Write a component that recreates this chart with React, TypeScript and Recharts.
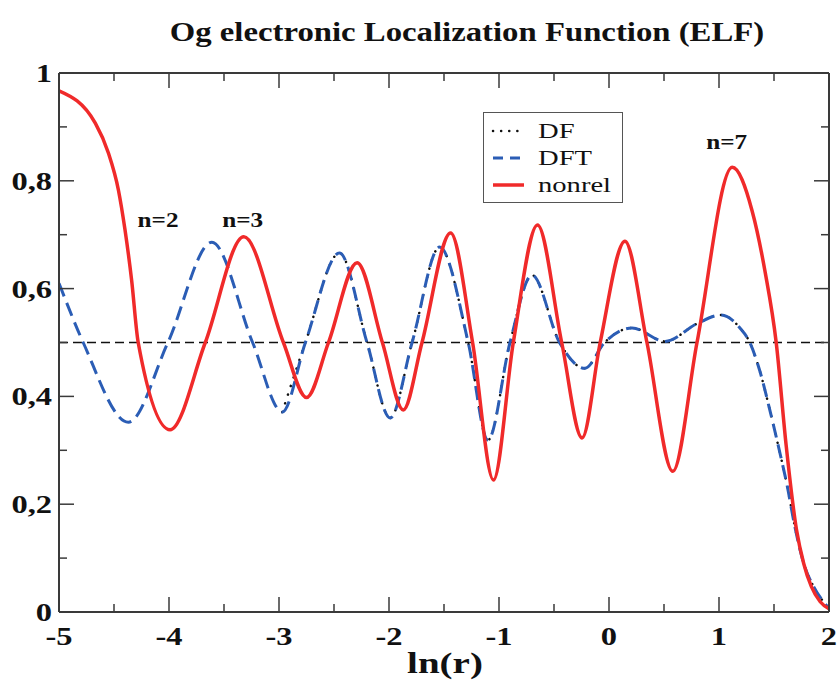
import React from 'react';
import { LineChart, Line, XAxis, YAxis, ReferenceLine, ReferenceDot } from 'recharts';

// ln(r) / ELF pairs
const nonrelX = [-5.0, -4.67, -4.55, -4.46, -4.4, -4.34, -4.28, -3.99, -3.67, -3.32, -2.96, -2.75, -2.55, -2.29, -2.06, -1.87, -1.7, -1.44, -1.24, -1.05, -0.87, -0.65, -0.43, -0.245, -0.08, 0.145, 0.345, 0.58, 0.8, 1.12, 1.3, 1.42, 1.52, 1.61, 1.705, 1.77, 1.84, 1.92, 2.0];
const nonrelY = [0.967, 0.907, 0.851, 0.783, 0.709, 0.616, 0.5, 0.338, 0.5, 0.696, 0.5, 0.398, 0.5, 0.648, 0.5, 0.375, 0.5, 0.703, 0.5, 0.245, 0.5, 0.718, 0.5, 0.323, 0.5, 0.688, 0.5, 0.261, 0.5, 0.825, 0.745, 0.63, 0.5, 0.31, 0.152, 0.09, 0.047, 0.019, 0.006];

const dftX = [-5.0, -4.78, -4.37, -4.01, -3.61, -3.24, -2.97, -2.76, -2.45, -2.2, -1.99, -1.79, -1.54, -1.28, -1.1, -0.9, -0.7, -0.45, -0.22, -0.04, 0.21, 0.51, 0.8, 1.02, 1.19, 1.28, 1.37, 1.47, 1.555, 1.615, 1.69, 1.77, 1.86, 1.95, 2.0];
const dftY = [0.61, 0.5, 0.352, 0.5, 0.686, 0.5, 0.371, 0.5, 0.666, 0.5, 0.36, 0.5, 0.677, 0.5, 0.319, 0.5, 0.625, 0.5, 0.452, 0.5, 0.527, 0.502, 0.535, 0.551, 0.527, 0.5, 0.448, 0.368, 0.294, 0.239, 0.158, 0.09, 0.047, 0.019, 0.007];

const dfX = [-2.97, -2.76, -2.45, -2.2, -1.99, -1.79, -1.54, -1.28, -1.1, -0.9, -0.7, -0.45, -0.22, -0.04, 0.21, 0.51, 0.8, 1.02, 1.19, 1.28, 1.37, 1.47, 1.555, 1.615, 1.69, 1.77, 1.86, 1.95, 2.0];
const dfY = [0.371, 0.5, 0.666, 0.5, 0.36, 0.5, 0.677, 0.5, 0.319, 0.5, 0.625, 0.5, 0.452, 0.5, 0.527, 0.502, 0.535, 0.551, 0.527, 0.5, 0.448, 0.368, 0.294, 0.239, 0.158, 0.09, 0.047, 0.019, 0.007];

const xTicks = [-5, -4.5, -4, -3.5, -3, -2.5, -2, -1.5, -1, -0.5, 0, 0.5, 1, 1.5, 2];
const yTicks = [0, 0.1, 0.2, 0.3, 0.4, 0.5, 0.6, 0.7, 0.8, 0.9, 1];

const notes = [
  { x: -4.1, y: 0.727, text: 'n=2' },
  { x: -3.33, y: 0.727, text: 'n=3' },
  { x: 1.07, y: 0.872, text: 'n=7' },
];

const toPts = (xs: number[], ys: number[]) => xs.map((x, i) => ({ x, y: ys[i] }));
const nonrel = toPts(nonrelX, nonrelY);
const dft = toPts(dftX, dftY);
const df = toPts(dfX, dfY);

const AXIS = '#3a3a3a';
const FONT = '"Liberation Serif", "Times New Roman", serif';
const RED = '#f02a2a';
const BLUE = '#2b5db5';
const SX = 1.3; // the source figure is stretched sideways

const isMajorX = (v: number) => Number.isInteger(v);
const isMajorY = (v: number) => Math.round(v * 10) % 2 === 0;
const yLabel = (v: number) => (v === 0 ? '0' : v === 1 ? '1' : v.toFixed(1).replace('.', ','));

const BottomTick = ({ x, y, payload }: any) => {
  const major = isMajorX(payload.value);
  return (
    <g>
      <line x1={x} y1={y} x2={x} y2={y - (major ? 15 : 8)} stroke={AXIS} strokeWidth={1.5} />
      {major && (
        <text transform={`translate(${x} ${y + 33}) scale(${SX} 1)`} textAnchor="middle" fontFamily={FONT} fontWeight="bold" fontSize={25} fill="#111">
          {payload.value}
        </text>
      )}
    </g>
  );
};

const TopTick = ({ x, y, payload }: any) => (
  <line x1={x} y1={y} x2={x} y2={y + (isMajorX(payload.value) ? 15 : 8)} stroke={AXIS} strokeWidth={1.5} />
);

const LeftTick = ({ x, y, payload }: any) => {
  const major = isMajorY(payload.value);
  return (
    <g>
      <line x1={x} y1={y} x2={x + (major ? 15 : 8)} y2={y} stroke={AXIS} strokeWidth={1.5} />
      {major && (
        <text transform={`translate(${x - 7} ${y + 9}) scale(${SX} 1)`} textAnchor="end" fontFamily={FONT} fontWeight="bold" fontSize={25} fill="#111">
          {yLabel(payload.value)}
        </text>
      )}
    </g>
  );
};

const RightTick = ({ x, y, payload }: any) => (
  <line x1={x} y1={y} x2={x - (isMajorY(payload.value) ? 15 : 8)} y2={y} stroke={AXIS} strokeWidth={1.5} />
);

const legendItems = [
  { name: 'DF', color: '#111', dash: '0.1 8', width: 2.5, cap: 'round' as const },
  { name: 'DFT', color: BLUE, dash: '10 7', width: 3, cap: 'butt' as const },
  { name: 'nonrel', color: RED, dash: undefined, width: 3.5, cap: 'butt' as const },
];

const LegendBox = () => (
  <div style={{ position: 'absolute', left: 483, top: 112, width: 140, height: 91, boxSizing: 'border-box', border: '1.5px solid #555', background: '#fff', padding: '4px 0' }}>
    {legendItems.map((it) => (
      <div key={it.name} style={{ display: 'flex', alignItems: 'center', height: 27 }}>
        <svg width={54} height={10} style={{ flex: 'none' }}>
          <line x1={9} y1={5} x2={40} y2={5} stroke={it.color} strokeWidth={it.width} strokeDasharray={it.dash} strokeLinecap={it.cap} />
        </svg>
        <span style={{ display: 'inline-block', transform: `scaleX(${SX})`, transformOrigin: 'left center', fontFamily: FONT, fontSize: 22, color: '#111', lineHeight: 1, whiteSpace: 'nowrap' }}>{it.name}</span>
      </div>
    ))}
  </div>
);

const Note = (text: string) => (props: any) => (
  <text transform={`translate(${props.cx} ${props.cy + 7}) scale(1.2 1)`} textAnchor="middle" fontFamily={FONT} fontWeight="bold" fontSize={21} fill="#111">
    {text}
  </text>
);

export default function App() {
  return (
    <div style={{ position: 'absolute', left: 0, top: 0, width: 840, height: 683, background: '#fff' }}>
      <div style={{ position: 'absolute', left: 467, top: 32, transform: 'translate(-50%, -50%) scaleX(1.17)', whiteSpace: 'nowrap', fontFamily: FONT, fontWeight: 'bold', fontSize: 28, lineHeight: 1, color: '#111' }}>
        Og electronic Localization Function (ELF)
      </div>
      <LineChart width={840} height={683} margin={{ top: 72, right: 10, bottom: 70, left: 58 }}>
        <XAxis xAxisId={0} type="number" dataKey="x" domain={[-5, 2]} ticks={xTicks} interval={0} allowDataOverflow
          height={1} tickSize={0} tickMargin={0} tickLine={false} tick={<BottomTick />} axisLine={{ stroke: AXIS, strokeWidth: 2 }} />
        <XAxis xAxisId="top" orientation="top" type="number" dataKey="x" domain={[-5, 2]} ticks={xTicks} interval={0} allowDataOverflow
          height={1} tickSize={0} tickMargin={0} tickLine={false} tick={<TopTick />} axisLine={{ stroke: AXIS, strokeWidth: 2 }} />
        <YAxis yAxisId={0} type="number" domain={[0, 1]} ticks={yTicks} interval={0} allowDataOverflow
          width={1} tickSize={0} tickMargin={0} tickLine={false} tick={<LeftTick />} axisLine={{ stroke: AXIS, strokeWidth: 2 }} />
        <YAxis yAxisId="right" orientation="right" type="number" domain={[0, 1]} ticks={yTicks} interval={0} allowDataOverflow
          width={1} tickSize={0} tickMargin={0} tickLine={false} tick={<RightTick />} axisLine={{ stroke: AXIS, strokeWidth: 2 }} />
        <ReferenceLine y={0.5} stroke="#111" strokeWidth={1.6} strokeDasharray="9 5" />
        <Line data={df} dataKey="y" name="DF" type="monotone" stroke="#111" strokeWidth={2.5} strokeDasharray="0.1 9" strokeLinecap="round" dot={false} isAnimationActive={false} />
        <Line data={dft} dataKey="y" name="DFT" type="monotone" stroke={BLUE} strokeWidth={3} strokeDasharray="14 7" dot={false} isAnimationActive={false} />
        <Line data={nonrel} dataKey="y" name="nonrel" type="monotone" stroke={RED} strokeWidth={3.5} dot={false} isAnimationActive={false} />
        {notes.map((n) => (
          <ReferenceDot key={n.text} x={n.x} y={n.y} r={0} shape={Note(n.text)} />
        ))}
      </LineChart>
      <LegendBox />
      <div style={{ position: 'absolute', left: 445, top: 663, transform: 'translate(-50%, -50%) scaleX(1.3)', whiteSpace: 'nowrap', fontFamily: FONT, fontWeight: 'bold', fontSize: 30, lineHeight: 1, color: '#111' }}>
        ln(r)
      </div>
    </div>
  );
}
